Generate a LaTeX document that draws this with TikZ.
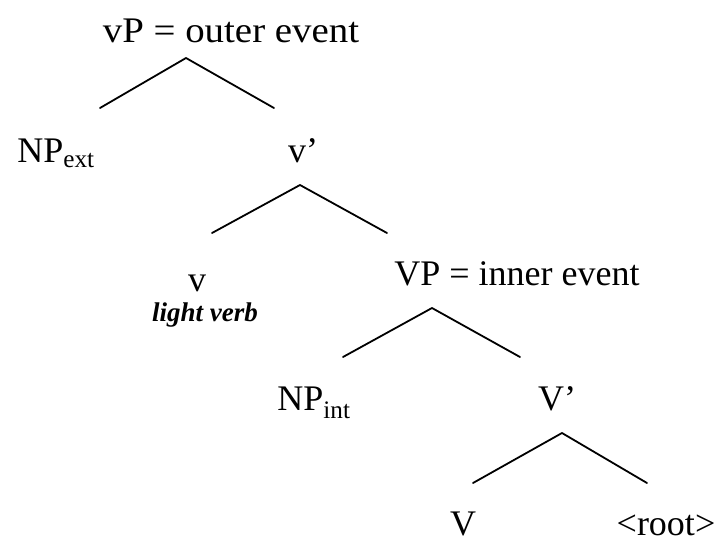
\documentclass[tikz,border=0pt]{standalone}
\usepackage{fontspec}
\setmainfont{Liberation Serif}
\begin{document}
\begin{tikzpicture}[x=1pt,y=-1pt,
  lab/.style={inner sep=0pt,anchor=base,font=\fontsize{36}{40}\selectfont},
  note/.style={inner sep=0pt,anchor=base,font=\fontsize{27}{30}\selectfont\bfseries\itshape},
  branch/.style={line width=1.8pt,line cap=round,line join=round}]
\useasboundingbox (0,0) rectangle (721,547);
% labels
\node[lab,xscale=1.08] (vP) at (231,42) {vP = outer event};
\node[lab] (NPext) at (56,162) {NP\textsubscript{ext}};
\node[lab] (vbar) at (303,162) {v’};
\node[lab] (v) at (197,291) {v};
\node[note] (lv) at (205,321) {light verb};
\node[lab] (VP) at (517,285) {VP = inner event};
\node[lab] (NPint) at (314,410) {NP\textsubscript{int}};
\node[lab] (Vbar) at (557,410) {V’};
\node[lab] (V) at (463,535) {V};
\node[lab] (root) at (666,535) {<root>};
% branch points
\coordinate (a1) at (186,58);  \coordinate (l1) at (100,108); \coordinate (r1) at (274,108);
\coordinate (a2) at (300,185); \coordinate (l2) at (212,233); \coordinate (r2) at (387,233);
\coordinate (a3) at (432,308); \coordinate (l3) at (343,357); \coordinate (r3) at (520,357);
\coordinate (a4) at (562,433); \coordinate (l4) at (473,483); \coordinate (r4) at (647,483);
\draw[branch] (l1) -- (a1) -- (r1);
\draw[branch] (l2) -- (a2) -- (r2);
\draw[branch] (l3) -- (a3) -- (r3);
\draw[branch] (l4) -- (a4) -- (r4);
\end{tikzpicture}
\end{document}
